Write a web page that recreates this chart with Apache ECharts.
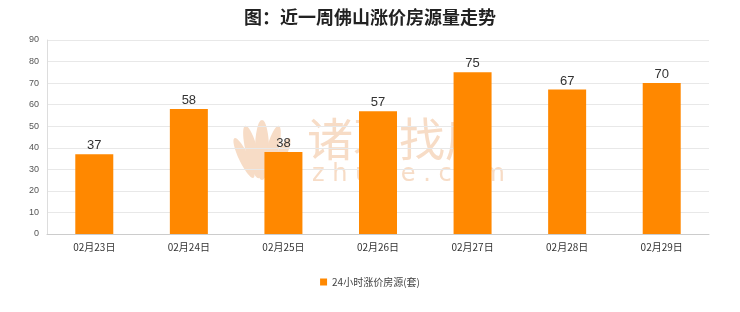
<!DOCTYPE html>
<html><head><meta charset="utf-8">
<script src="https://cdn.jsdelivr.net/npm/echarts@6/dist/echarts.min.js"></script>
<style>html,body{margin:0;padding:0;background:#fff}#c{width:740px;height:312px}</style>
</head><body><div id="c"></div>
<script>
const categories = ['02月23日','02月24日','02月25日','02月26日','02月27日','02月28日','02月29日'];
const values = [37, 58, 38, 57, 75, 67, 70];
const seriesName = '24小时涨价房源(套)';
const titleText = '图：近一周佛山涨价房源量走势';

const wm = '#f7dcc6';
const chart = echarts.init(document.getElementById('c'));
chart.setOption({
  backgroundColor: '#fff',
  animation: false,
  title: {
    text: titleText, left: 'center', top: 3,
    textStyle: {fontSize: 18, fontWeight: 'bold', color: '#222', fontFamily: 'Noto Sans CJK SC'}
  },
  graphic: [
    {type: 'ellipse', z: -10, shape: {cx: 262, cy: 150, rx: 7, ry: 30}, style: {fill: wm}},
    {type: 'ellipse', z: -10, shape: {cx: 252, cy: 152, rx: 6, ry: 27}, rotation: 0.25, origin: [252,152], style: {fill: wm}},
    {type: 'ellipse', z: -10, shape: {cx: 272, cy: 152, rx: 6, ry: 27}, rotation: -0.25, origin: [272,152], style: {fill: wm}},
    {type: 'ellipse', z: -10, shape: {cx: 244, cy: 158, rx: 5, ry: 22}, rotation: 0.45, origin: [244,158], style: {fill: wm}},
    {type: 'ellipse', z: -10, shape: {cx: 280, cy: 158, rx: 5, ry: 22}, rotation: -0.45, origin: [280,158], style: {fill: wm}},
    {type: 'text', left: 307, top: 116, z: -10, style: {text: '诸葛找房', fontSize: 46, fill: wm, fontFamily: 'Noto Sans CJK SC'}},
    {type: 'text', left: 312, top: 163, z: -10, style: {text: 'z h u g e . c o m', fontSize: 24, fill: wm, fontFamily: 'DejaVu Sans'}}
  ],
  legend: {
    bottom: 20, left: 'center', itemWidth: 7, itemHeight: 7, icon: 'rect',
    data: [seriesName],
    textStyle: {fontSize: 10, color: '#444', fontFamily: 'Noto Sans CJK SC'}
  },
  grid: {left: 47, right: 31, top: 40, bottom: 78},
  xAxis: {
    type: 'category', data: categories,
    axisLine: {lineStyle: {color: '#ccc'}},
    axisTick: {show: false},
    axisLabel: {fontSize: 10, color: '#333', margin: 8, fontFamily: 'Noto Sans CJK SC'}
  },
  yAxis: {
    type: 'value', min: 0, max: 90, interval: 10,
    axisLine: {show: true, lineStyle: {color: '#ddd'}},
    axisTick: {show: false},
    axisLabel: {fontSize: 9, color: '#555', margin: 8},
    splitLine: {lineStyle: {color: '#e8e8e8'}}
  },
  series: [{
    name: seriesName, type: 'bar', data: values, barWidth: 38,
    itemStyle: {color: '#FF8800'},
    label: {show: true, position: 'top', fontSize: 13, color: '#333', distance: 2}
  }]
});
</script></body></html>
